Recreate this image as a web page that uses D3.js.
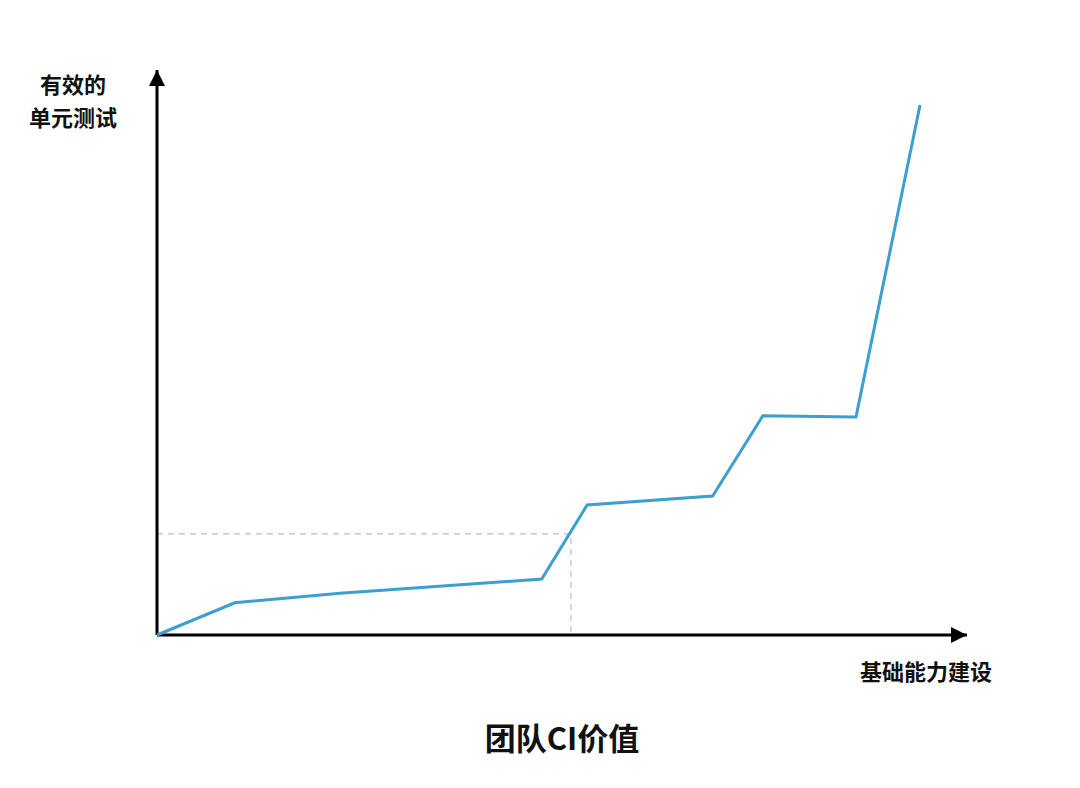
<!DOCTYPE html>
<html lang="zh">
<head>
    <meta charset="UTF-8">
    <title>团队CI价值</title>
    <script src="https://d3js.org/d3.v7.min.js"></script>
    <style>
        html, body { margin: 0; padding: 0; background: #fff; }
        text { font-family: "Noto Sans CJK SC", "Noto Sans", sans-serif; font-weight: bold; fill: #111; }
    </style>
</head>
<body>
    <div id="chart"></div>
    <script>
        // Curve (arbitrary 0-100 units on both axes)
        const capability = [0, 9.6, 22.6, 47.5, 53.1, 68.6, 74.8, 86.3, 94.2];
        const ciValue    = [0, 5.7, 7.4, 9.9, 23.0, 24.6, 38.8, 38.6, 93.8];
        // Guide point marked by the dashed lines
        const guideX = 51.1;
        const guideY = 17.9;

        const yLabelLines = ["有效的", "单元测试"];
        const xLabel = "基础能力建设";
        const title = "团队CI价值";

        const width = 1080, height = 788;
        const origin = {x: 157, y: 635};

        const x = d3.scaleLinear().domain([0, 100]).range([origin.x, 967]);
        const y = d3.scaleLinear().domain([0, 100]).range([origin.y, 70]);

        const svg = d3.select("#chart")
            .append("svg")
            .attr("width", width)
            .attr("height", height);

        svg.append("defs").append("marker")
            .attr("id", "arrow")
            .attr("viewBox", "0 0 10 10")
            .attr("refX", 10)
            .attr("refY", 5)
            .attr("markerUnits", "userSpaceOnUse")
            .attr("markerWidth", 20)
            .attr("markerHeight", 16)
            .attr("orient", "auto")
            .append("path")
            .attr("d", "M0,0 L10,5 L0,10 Z")
            .attr("fill", "#000");

        // dashed guides
        svg.append("path")
            .attr("d", `M${x(0)},${y(guideY)} H${x(guideX)} V${y(0)}`)
            .attr("fill", "none")
            .attr("stroke", "#bdbdbd")
            .attr("stroke-width", 1.2)
            .attr("stroke-dasharray", "6,5");

        // axes
        svg.append("line")
            .attr("x1", x(0)).attr("y1", y(0))
            .attr("x2", x(0)).attr("y2", y(100))
            .attr("stroke", "#000").attr("stroke-width", 3)
            .attr("marker-end", "url(#arrow)");
        svg.append("line")
            .attr("x1", x(0)).attr("y1", y(0))
            .attr("x2", x(100)).attr("y2", y(0))
            .attr("stroke", "#000").attr("stroke-width", 3)
            .attr("marker-end", "url(#arrow)");

        // curve
        const pts = capability.map((c, i) => [c, ciValue[i]]);
        svg.append("path")
            .datum(pts)
            .attr("d", d3.line().x(d => x(d[0])).y(d => y(d[1])))
            .attr("fill", "none")
            .attr("stroke", "#3d9fd0")
            .attr("stroke-width", 3)
            .attr("stroke-linejoin", "miter");

        // labels
        svg.selectAll(".ylab")
            .data(yLabelLines).enter()
            .append("text")
            .attr("class", "ylab")
            .attr("x", 73)
            .attr("y", (d, i) => 93 + i * 33)
            .attr("text-anchor", "middle")
            .style("font-size", "22px")
            .text(d => d);

        svg.append("text")
            .attr("x", 926)
            .attr("y", 680)
            .attr("text-anchor", "middle")
            .style("font-size", "22px")
            .text(xLabel);

        svg.append("text")
            .attr("x", 562)
            .attr("y", 750)
            .attr("text-anchor", "middle")
            .style("font-size", "31px")
            .text(title);
    </script>
</body>
</html>
